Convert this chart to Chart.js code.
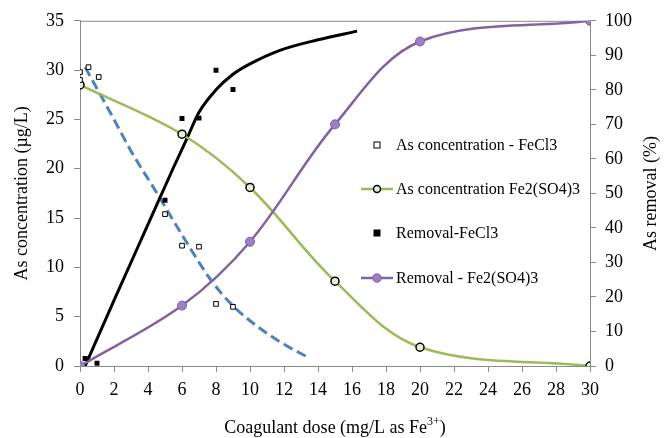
<!DOCTYPE html>
<html><head><meta charset="utf-8">
<script src="https://cdn.jsdelivr.net/npm/chart.js@4.4.1/dist/chart.umd.min.js"></script>
<style>html,body{margin:0;padding:0;background:#fff}#wrap{width:669px;height:438px}</style>
</head><body><div id="wrap"><canvas id="c" width="669" height="438"></canvas></div>
<script>
// ---- data ----
const xTickStep = 2;
const concFeCl3Dose = [0, 0, 0.5, 1.1, 5, 6, 7, 8, 9];
const concFeCl3 = [29.8, 29.0, 30.3, 29.3, 15.4, 12.2, 12.1, 6.3, 6.0];
const fe2Dose = [0, 6, 10, 15, 20, 30];
const concFe2 = [28.5, 23.5, 18.1, 8.6, 1.9, 0];
const removalFe2 = [0, 17.5, 36, 70, 94, 100];
const removalFeCl3Dose = [0.3, 1, 5, 6, 7, 8, 9];
const removalFeCl3 = [2.2, 0.8, 48, 71.7, 71.8, 85.7, 80.1];
const removalTrendDose = [0.3, 2, 4, 5.5, 6.3, 7, 8, 9, 10, 11.8, 14, 16.3];
const removalTrend = [0, 19, 41, 57.5, 66, 73.5, 80, 84.5, 87.5, 91.5, 94.5, 97];
const concTrendDose = [0.3, 2, 3, 4.5, 6, 7.75, 9, 10.6, 12, 13.4];
const concTrend = [30.3, 25, 21.8, 17.6, 13.3, 8.6, 6.1, 3.8, 2.2, 0.9];
const legendLabels = ['As concentration - FeCl3', 'As concentration Fe2(SO4)3', 'Removal-FeCl3', 'Removal - Fe2(SO4)3'];
const leftTitle = 'As concentration (\u00b5g/L)';
const rightTitle = 'As removal (%)';
const bottomTitle = 'Coagulant dose (mg/L as Fe';
const bottomSup = '3+';

const pts = (xs, ys) => xs.map((x, i) => ({x: x, y: ys[i]}));
const SERIF = '"Liberation Serif", "Times New Roman", serif';
const AXIS = '#8a8a8a';
const GREEN = '#9BBB59';
const PURPLE = '#8064A2';
const BLUE = '#4F81BD';

const datasets = [
  {label: legendLabels[0], data: pts(concFeCl3Dose, concFeCl3), yAxisID: 'y', showLine: false,
   pointStyle: 'rect', pointRadius: 3.3, borderWidth: 1, borderColor: '#000', backgroundColor: '#fff'},
  {label: legendLabels[2], data: pts(removalFeCl3Dose, removalFeCl3), yAxisID: 'y1', showLine: false,
   pointStyle: 'rect', pointRadius: 3.5, borderWidth: 0, borderColor: '#000', backgroundColor: '#000'},
  {label: legendLabels[3], data: pts(fe2Dose, removalFe2), yAxisID: 'y1', showLine: true, tension: 0.35,
   borderColor: PURPLE, borderWidth: 2.5, pointRadius: 4.5, pointBackgroundColor: '#9a80c4',
   pointBorderColor: '#7a5fa6', pointBorderWidth: 1},
  {label: legendLabels[1], data: pts(fe2Dose, concFe2), yAxisID: 'y', showLine: true, tension: 0.35,
   borderColor: GREEN, borderWidth: 2.5, pointRadius: 4, pointBackgroundColor: '#e8efd8',
   pointBorderColor: '#000', pointBorderWidth: 1.5},
  {label: 'trend removal', data: pts(removalTrendDose, removalTrend), yAxisID: 'y1', showLine: true,
   cubicInterpolationMode: 'monotone', borderColor: '#000', borderWidth: 3, pointRadius: 0},
  {label: 'trend conc', data: pts(concTrendDose, concTrend), yAxisID: 'y', showLine: true,
   cubicInterpolationMode: 'monotone', borderColor: BLUE, borderWidth: 3, borderDash: [10, 5], pointRadius: 0}
];

const deco = {
  id: 'deco',
  beforeDatasetsDraw(chart) {
    const {ctx, chartArea: a} = chart;
    ctx.save();
    ctx.strokeStyle = AXIS; ctx.lineWidth = 1;
    ctx.beginPath(); ctx.moveTo(a.left, a.top + 0.5); ctx.lineTo(a.right, a.top + 0.5); ctx.stroke();
    ctx.restore();
  },
  afterDraw(chart) {
    const {ctx, chartArea: a} = chart;
    ctx.save();
    ctx.fillStyle = '#000';
    ctx.font = '18px ' + SERIF;
    ctx.textAlign = 'center'; ctx.textBaseline = 'middle';
    const cy = (a.top + a.bottom) / 2;
    ctx.save(); ctx.translate(22, cy); ctx.rotate(-Math.PI / 2); ctx.fillText(leftTitle, 0, 0); ctx.restore();
    ctx.save(); ctx.translate(651, cy); ctx.rotate(-Math.PI / 2); ctx.fillText(rightTitle, 0, 0); ctx.restore();
    // bottom title with superscript
    ctx.textAlign = 'left';
    const w1 = ctx.measureText(bottomTitle).width;
    ctx.font = '12px ' + SERIF;
    const w2 = ctx.measureText(bottomSup).width;
    ctx.font = '18px ' + SERIF;
    const w3 = ctx.measureText(')').width;
    const cx = (a.left + a.right) / 2;
    let x = cx - (w1 + w2 + w3) / 2;
    const by = 428;
    ctx.fillText(bottomTitle, x, by); x += w1;
    ctx.font = '12px ' + SERIF; ctx.fillText(bottomSup, x, by - 6); x += w2;
    ctx.font = '18px ' + SERIF; ctx.fillText(')', x, by);
    // legend
    const rows = [145, 189, 233, 278];
    const mx = 377, tx = 396;
    ctx.font = '16px ' + SERIF; ctx.textBaseline = 'middle';
    rows.forEach((ry, i) => ctx.fillText(legendLabels[i], tx, ry + 1));
    // item 0: hollow square
    ctx.lineWidth = 1; ctx.strokeStyle = '#000'; ctx.fillStyle = '#fff';
    ctx.fillRect(mx - 3, rows[0] - 3, 6, 6); ctx.strokeRect(mx - 3, rows[0] - 3, 6, 6);
    // item 1: green line + circle
    ctx.strokeStyle = GREEN; ctx.lineWidth = 2.5;
    ctx.beginPath(); ctx.moveTo(361, rows[1]); ctx.lineTo(393, rows[1]); ctx.stroke();
    ctx.beginPath(); ctx.arc(mx, rows[1], 3.5, 0, Math.PI * 2);
    ctx.fillStyle = '#e8efd8'; ctx.fill(); ctx.strokeStyle = '#000'; ctx.lineWidth = 1.5; ctx.stroke();
    // item 2: black square
    ctx.fillStyle = '#000'; ctx.fillRect(mx - 3.5, rows[2] - 3.5, 7, 7);
    // item 3: purple line + circle
    ctx.strokeStyle = PURPLE; ctx.lineWidth = 2.5;
    ctx.beginPath(); ctx.moveTo(361, rows[3]); ctx.lineTo(393, rows[3]); ctx.stroke();
    ctx.beginPath(); ctx.arc(mx, rows[3], 4.2, 0, Math.PI * 2);
    ctx.fillStyle = '#9a80c4'; ctx.fill(); ctx.strokeStyle = '#7a5fa6'; ctx.lineWidth = 1; ctx.stroke();
    ctx.restore();
  }
};

const tickFont = {family: SERIF, size: 18};
new Chart(document.getElementById('c'), {
  type: 'scatter',
  data: {datasets},
  options: {
    responsive: false, animation: false, devicePixelRatio: 1,
    layout: {padding: {top: 20, left: 0, right: 0, bottom: 0}},
    plugins: {legend: {display: false}, tooltip: {enabled: false}},
    scales: {
      x: {type: 'linear', min: 0, max: 30,
          ticks: {stepSize: xTickStep, font: tickFont, color: '#000', padding: 7, maxRotation: 0, autoSkip: false},
          grid: {drawOnChartArea: false, drawTicks: true, tickLength: 6, color: AXIS},
          border: {color: AXIS, width: 1},
          afterFit(s) { s.height = 72; }},
      y: {position: 'left', min: 0, max: 35,
          ticks: {stepSize: 5, font: tickFont, color: '#000', padding: 10},
          grid: {drawOnChartArea: false, drawTicks: true, tickLength: 6, color: AXIS},
          border: {color: AXIS, width: 1},
          afterFit(s) { s.width = 80; }},
      y1: {position: 'right', min: 0, max: 100,
          ticks: {stepSize: 10, font: tickFont, color: '#000', padding: 9},
          grid: {drawOnChartArea: false, drawTicks: true, tickLength: 6, color: AXIS},
          border: {color: AXIS, width: 1},
          afterFit(s) { s.width = 79; }}
    }
  },
  plugins: [deco]
});
</script>
</body></html>
